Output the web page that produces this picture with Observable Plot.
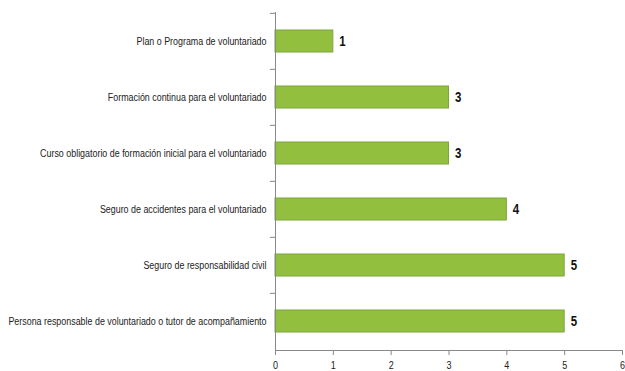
<!DOCTYPE html>
<html><head><meta charset="utf-8">
<script src="https://cdn.jsdelivr.net/npm/d3@7"></script>
<script src="https://cdn.jsdelivr.net/npm/@observablehq/plot@0.6"></script>
<style>body{margin:0;background:#fff}</style>
</head><body><div id="chart"></div>
<script>
const categories = [
  "Plan o Programa de voluntariado",
  "Formación continua para el voluntariado",
  "Curso obligatorio de formación inicial para el voluntariado",
  "Seguro de accidentes para el voluntariado",
  "Seguro de responsabilidad civil",
  "Persona responsable de voluntariado o tutor de acompañamiento"
];
const values = [1, 3, 3, 4, 5, 5];
const xTicks = [0, 1, 2, 3, 4, 5, 6];
const data = categories.map((c, i) => ({category: c, value: values[i]}));

const H = 371, mt = 12, mb = 21;
const step = (H - mt - mb) / categories.length;
const font = "'Liberation Sans', Arial, sans-serif";

const chart = Plot.plot({
  width: 625, height: H,
  marginLeft: 275, marginRight: 3, marginTop: mt, marginBottom: mb,
  style: {fontFamily: font, fontSize: "11.5px", color: "#222", background: "#fff"},
  x: {domain: [0, 6], ticks: xTicks, label: null},
  y: {domain: categories, paddingInner: 0.6, paddingOuter: 0.3, label: null},
  marks: [
    Plot.barX(data, {y: "category", x: "value", fill: "#93bf3e", stroke: "#7da63a", strokeWidth: 1}),
    Plot.text(data, {y: "category", x: "value", text: d => String(d.value), dx: 6, textAnchor: "start", fontWeight: "bold", fontSize: 14, fill: "#111", className: "vlabel"}),
    Plot.ruleY(categories, {y: d => d, dy: -step / 2, x1: -0.09, x2: 0, stroke: "#888"}),
    Plot.frame({anchor: "left", stroke: "#888"}),
    Plot.frame({anchor: "bottom", stroke: "#888"}),
    Plot.axisY({tickSize: 0, tickPadding: 9, fontSize: 11.5, label: null, className: "yax"}),
    Plot.axisX({ticks: xTicks, tickSize: 5, tickPadding: 6, stroke: "#888", fontSize: 11, tickFormat: d3.format("d"), label: null, className: "xax"})
  ]
});
document.getElementById("chart").appendChild(chart);
// condense text to mimic the narrow font of the reference
d3.select(chart).selectAll(".yax text").each(function() {
  const t = this.getAttribute("transform") || "";
  this.setAttribute("transform", t + " scale(0.775,1)");
});
d3.select(chart).selectAll(".xax text, .vlabel text").each(function() {
  const t = this.getAttribute("transform") || "";
  this.setAttribute("transform", t + " scale(0.82,1)");
});
</script></body></html>
